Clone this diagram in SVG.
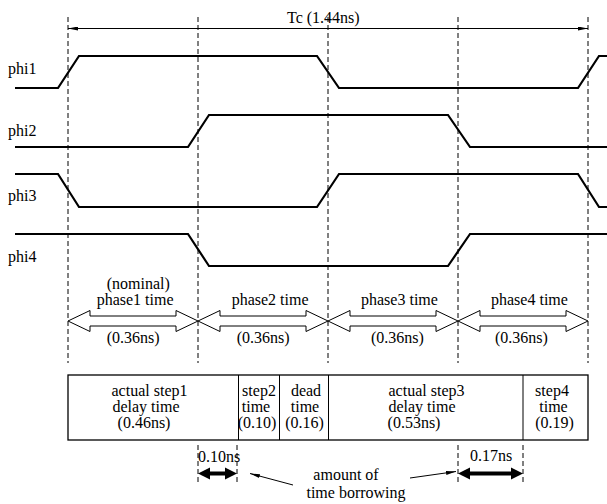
<svg xmlns="http://www.w3.org/2000/svg" width="607" height="504" viewBox="0 0 607 504">
<style>
text{font-size:16px;fill:#000}
.m{text-anchor:middle}
.sig{fill:none;stroke:#000;stroke-width:2.2;stroke-linejoin:miter}
.dash{stroke:#000;stroke-width:1;stroke-dasharray:5,3;fill:none}
.hollow{fill:#fff;stroke:#000;stroke-width:1}
.thin{stroke:#000;stroke-width:1;fill:none}
</style>
<defs>
<marker id="ah" viewBox="0 0 10 4" refX="10" refY="2" markerWidth="10" markerHeight="4" markerUnits="userSpaceOnUse" orient="auto-start-reverse">
<path d="M0,0 L10,2 L0,4 Z" fill="#000"/>
</marker>
<path id="dbl" d="M0,0 L22,-10.5 L22,-5 L108,-5 L108,-10.5 L130,0 L108,10.5 L108,5 L22,5 L22,10.5 Z"/>
</defs>
<g font-family="'Liberation Serif', 'Times New Roman', serif">

<g id="guides">
<line class="dash" x1="68" y1="17" x2="68" y2="363"/>
<line class="dash" x1="198" y1="17" x2="198" y2="363"/>
<line class="dash" x1="328" y1="17" x2="328" y2="363"/>
<line class="dash" x1="458" y1="17" x2="458" y2="363"/>
<line class="dash" x1="588" y1="17" x2="588" y2="363"/>
</g>

<g id="tc">
<line class="thin" x1="68" y1="28.5" x2="588" y2="28.5" marker-start="url(#ah)" marker-end="url(#ah)"/>
<text x="287" y="22.5">Tc (1.44ns)</text>
</g>

<g id="phi1">
<text x="8" y="74">phi1</text>
<polyline class="sig" points="15,88 58,88 79,56 317,56 339,88 578,88 599,56 607,56"/>
</g>
<g id="phi2">
<text x="8" y="136">phi2</text>
<polyline class="sig" points="15,147 188,147 209,115 448,115 470,147 607,147"/>
</g>
<g id="phi3">
<text x="8" y="201">phi3</text>
<polyline class="sig" points="15,174 58,174 79,207 317,207 339,174 578,174 599,207 607,207"/>
</g>
<g id="phi4">
<text x="8" y="262">phi4</text>
<polyline class="sig" points="15,234 188,234 209,266 448,266 470,234 607,234"/>
</g>

<g id="phase1">
<use href="#dbl" class="hollow" x="68" y="321"/>
<text x="106.7" y="288.5">(nominal)</text>
<text x="96.7" y="304.5">phase1 time</text>
<text x="106.7" y="343">(0.36ns)</text>
</g>
<g id="phase2">
<use href="#dbl" class="hollow" x="198" y="321"/>
<text x="231.7" y="304.5">phase2 time</text>
<text x="236.7" y="343">(0.36ns)</text>
</g>
<g id="phase3">
<use href="#dbl" class="hollow" x="328" y="321"/>
<text x="361" y="304.5">phase3 time</text>
<text x="371" y="343">(0.36ns)</text>
</g>
<g id="phase4">
<use href="#dbl" class="hollow" x="458" y="321"/>
<text x="491" y="304.5">phase4 time</text>
<text x="495" y="343">(0.36ns)</text>
</g>

<g id="steps">
<rect x="68" y="375" width="520" height="65" fill="none" stroke="#000" stroke-width="1.3"/>
<line class="thin" x1="238.5" y1="375" x2="238.5" y2="440"/>
<line class="thin" x1="279.5" y1="375" x2="279.5" y2="440"/>
<line class="thin" x1="328.5" y1="375" x2="328.5" y2="440"/>
<line class="thin" x1="523" y1="375" x2="523" y2="440"/>
</g>
<g id="step1">
<text class="m" x="149.5" y="396">actual step1</text>
<text class="m" x="146" y="412">delay time</text>
<text class="m" x="144" y="428">(0.46ns)</text>
</g>
<g id="step2">
<text class="m" x="259" y="396">step2</text>
<text class="m" x="256" y="412">time</text>
<text class="m" x="257" y="428">(0.10)</text>
</g>
<g id="dead">
<text class="m" x="306" y="396">dead</text>
<text class="m" x="305" y="412">time</text>
<text class="m" x="304.5" y="428">(0.16)</text>
</g>
<g id="step3">
<text class="m" x="426.5" y="396">actual step3</text>
<text class="m" x="422" y="412">delay time</text>
<text class="m" x="414" y="428">(0.53ns)</text>
</g>
<g id="step4">
<text class="m" x="552" y="396">step4</text>
<text class="m" x="553.5" y="412">time</text>
<text class="m" x="554.5" y="428">(0.19)</text>
</g>

<g id="borrow1">
<line class="dash" x1="198" y1="445" x2="198" y2="484"/>
<line class="dash" x1="237" y1="445" x2="237" y2="484"/>
<path d="M198,473.5 L210,467.5 L210,471.5 L225,471.5 L225,467.5 L237,473.5 L225,479.5 L225,475.5 L210,475.5 L210,479.5 Z" fill="#000"/>
<text x="198" y="462">0.10ns</text>
</g>
<g id="borrow2">
<line class="dash" x1="458" y1="445" x2="458" y2="484"/>
<line class="dash" x1="523" y1="445" x2="523" y2="484"/>
<path d="M458,473.5 L470,467.5 L470,471.5 L511,471.5 L511,467.5 L523,473.5 L511,479.5 L511,475.5 L470,475.5 L470,479.5 Z" fill="#000"/>
<text x="470" y="461">0.17ns</text>
</g>

<g id="connectors">
<line class="thin" x1="293" y1="485" x2="250" y2="473.5" marker-end="url(#ah)"/>
<line class="thin" x1="410" y1="478" x2="456" y2="471.5" marker-end="url(#ah)"/>
</g>
<g id="borrow-label">
<text class="m" x="346" y="480">amount of</text>
<text class="m" x="356" y="497.5">time borrowing</text>
</g>
</g>
</svg>
